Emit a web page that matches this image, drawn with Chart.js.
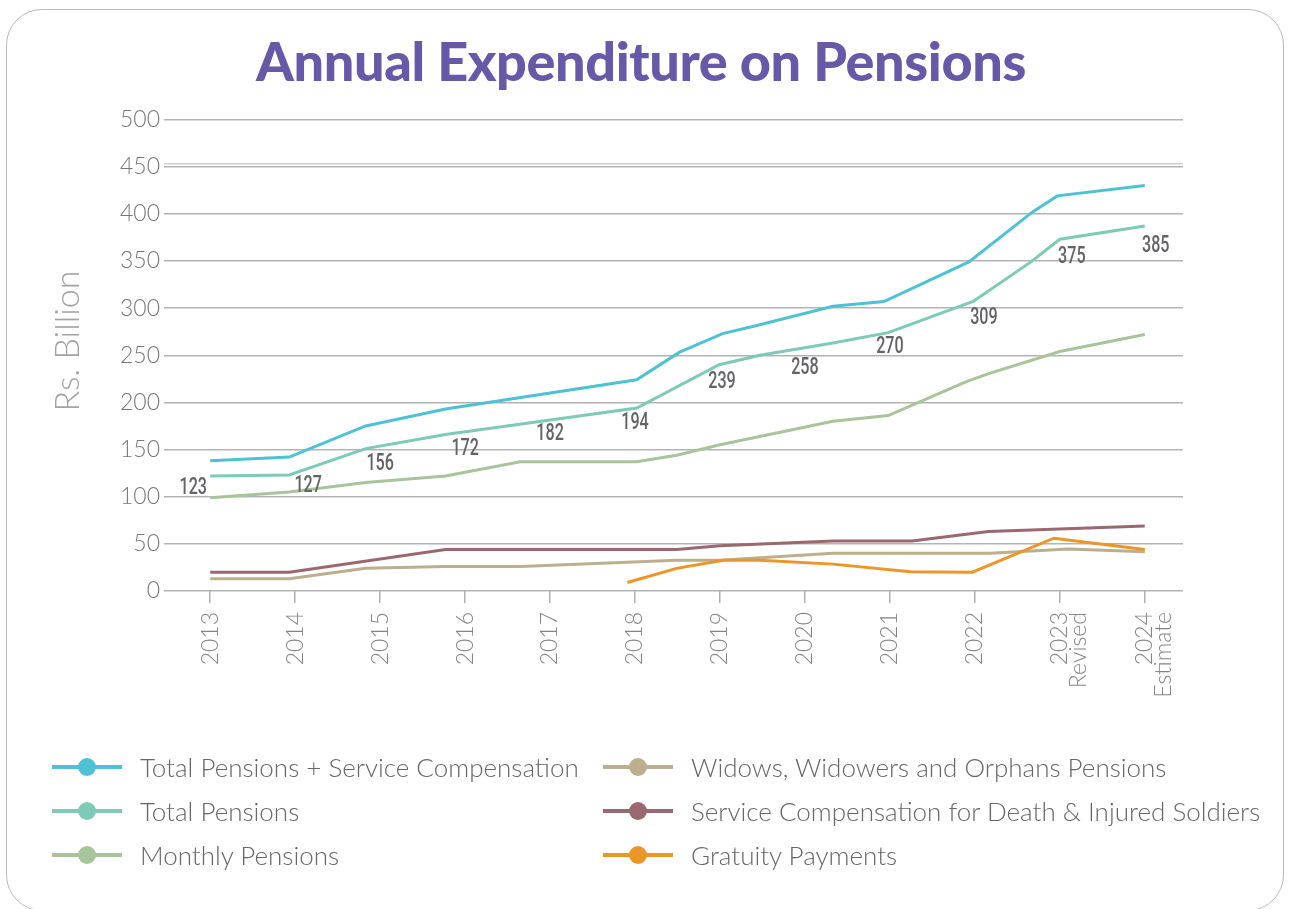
<!DOCTYPE html>
<html>
<head>
<meta charset="utf-8">
<script src="https://cdn.jsdelivr.net/npm/chart.js@4.4.1/dist/chart.umd.min.js"></script>
<style>
  html, body { margin: 0; padding: 0; background: #fff; width: 1290px; height: 909px; overflow: hidden; }
  #frame { position: absolute; left: 6px; top: 9px; width: 1278px; height: 902px; border: 1.5px solid #b9b9b9; border-radius: 36px; box-sizing: border-box; }
  #title { position: absolute; left: -4px; top: 34px; width: 1290px; text-align: center; font-family: Lato, sans-serif; font-weight: 900; font-size: 54px; line-height: 54px; letter-spacing: -0.4px; color: #6759a8; }
  #chartBox { position: absolute; left: 0; top: 0; width: 1290px; height: 909px; }
  #legend { position: absolute; left: 52px; top: 745px; display: grid; grid-template-rows: 43px 45px 44px; grid-auto-flow: column; grid-template-columns: 551px auto; }
  .item { display: flex; align-items: center; font-family: Lato, sans-serif; font-weight: 300; font-size: 26px; color: #666; white-space: nowrap; }
  .mk { position: relative; width: 70px; height: 20px; margin-right: 18px; flex: none; }
  .mk .ln { position: absolute; left: 0; right: 0; top: 8px; height: 4px; }
  .mk .dot { position: absolute; left: 26px; top: 1px; width: 18px; height: 18px; border-radius: 50%; }
</style>
</head>
<body>
<div id="frame"></div>
<div id="title">Annual Expenditure on Pensions</div>
<div id="chartBox"><canvas id="c" width="1290" height="909"></canvas></div>
<div id="legend"></div>
<script>
// ---------- DATA ----------
const tickYears = [2013, 2014, 2015, 2016, 2017, 2018, 2019, 2020, 2021, 2022, 2023, 2024];
const xTickLabels = ['2013', '2014', '2015', '2016', '2017', '2018', '2019', '2020', '2021', '2022', ['2023', 'Revised'], ['2024', 'Estimate']];

const seriesNames = [
  'Total Pensions + Service Compensation',
  'Total Pensions',
  'Monthly Pensions',
  'Widows, Widowers and Orphans Pensions',
  'Service Compensation for Death & Injured Soldiers',
  'Gratuity Payments'
];

const totalServiceX = [2013.0, 2013.93, 2014.83, 2015.77, 2018.02, 2018.52, 2019.03, 2019.41, 2020.33, 2020.93, 2021.93, 2022.68, 2022.97, 2024.0];
const totalServiceY = [138, 142, 175, 193, 224, 253, 273, 281, 302, 307, 349, 402, 419, 430];

const totalPensionsX = [2013.0, 2013.93, 2014.83, 2015.77, 2018.02, 2018.99, 2019.47, 2020.33, 2020.98, 2021.98, 2022.66, 2023.0, 2024.0];
const totalPensionsY = [122, 123, 151, 166, 194, 240, 250, 263, 274, 307, 349, 373, 387];

const monthlyX = [2013.0, 2013.93, 2014.83, 2015.77, 2016.65, 2018.02, 2018.49, 2019.0, 2020.33, 2020.98, 2021.9, 2022.18, 2023.0, 2024.0];
const monthlyY = [99, 105, 115, 122, 137, 137, 144, 155, 180, 186, 222, 231, 254, 272];

const widowsX = [2013.0, 2013.93, 2014.83, 2015.77, 2016.65, 2018.49, 2019.0, 2020.33, 2022.18, 2023.1, 2024.0];
const widowsY = [13, 13, 24, 26, 26, 32.5, 32.5, 40, 40, 44.5, 41.5];

const serviceCompX = [2013.0, 2013.93, 2015.77, 2018.49, 2019.0, 2020.33, 2021.26, 2022.16, 2024.0];
const serviceCompY = [20, 20, 44, 44, 48, 53, 53, 63, 69];

const gratuityX = [2017.91, 2018.49, 2019.04, 2019.47, 2020.33, 2021.24, 2021.97, 2022.93, 2024.0];
const gratuityY = [9, 24, 32.5, 32.5, 28.5, 20.5, 20, 56, 44];

const totalLabelYears = [2013, 2014, 2015, 2016, 2017, 2018, 2019, 2020, 2021, 2022, 2023, 2024];
const totalLabelValues = [123, 127, 156, 172, 182, 194, 239, 258, 270, 309, 375, 385];

const yTicks = [0, 50, 100, 150, 200, 250, 300, 350, 400, 450, 500];
const extraGridValues = [453];

// ---------- STYLE ----------
const colors = ['#4cc2d4', '#7ccab7', '#a8c49a', '#bcae8f', '#9c6870', '#ec9627'];
const zip = (xs, ys) => xs.map((x, i) => ({ x: x, y: ys[i] }));
const seriesData = [
  zip(totalServiceX, totalServiceY),
  zip(totalPensionsX, totalPensionsY),
  zip(monthlyX, monthlyY),
  zip(widowsX, widowsY),
  zip(serviceCompX, serviceCompY),
  zip(gratuityX, gratuityY)
];
const drawOrder = [3, 4, 5, 2, 1, 0];

const datasets = seriesNames.map((name, i) => ({
  label: name,
  data: seriesData[i],
  borderColor: colors[i],
  backgroundColor: colors[i],
  borderWidth: 3,
  pointRadius: 0,
  tension: 0,
  fill: false,
  order: drawOrder[i]
}));

// label placement nudges (px) relative to the tick / value position
const labelNudge = {
  0: [-17, -2], 1: [13, 0], 2: [0, 5], 3: [0, 5], 4: [0, 0], 5: [0, 0],
  6: [2, 2], 7: [0, 6], 8: [0, -4], 9: [9, 4], 10: [12, 5], 11: [11, 3]
};
const valueLabels = {
  id: 'valueLabels',
  afterDatasetsDraw(chart) {
    const { ctx, scales } = chart;
    ctx.save();
    ctx.fillStyle = '#636368';
    ctx.font = '500 23px Roboto, "DejaVu Sans", sans-serif';
    ctx.textAlign = 'center';
    ctx.textBaseline = 'middle';
    totalLabelYears.forEach((yr, i) => {
      const n = labelNudge[i] || [0, 0];
      const px = scales.x.getPixelForValue(yr) + n[0];
      const py = scales.y.getPixelForValue(totalLabelValues[i]) + 15 + n[1];
      ctx.save();
      ctx.translate(px, py);
      ctx.scale(0.7, 1);
      ctx.fillText(String(totalLabelValues[i]), 0, 0);
      ctx.restore();
    });
    ctx.restore();
  }
};

const yTitle = {
  id: 'yTitle',
  afterDraw(chart) {
    const ctx = chart.ctx;
    ctx.save();
    ctx.translate(68, 341);
    ctx.rotate(-Math.PI / 2);
    ctx.fillStyle = '#a3a3a3';
    ctx.font = '300 34px Lato, sans-serif';
    ctx.textAlign = 'center';
    ctx.textBaseline = 'middle';
    ctx.fillText('Rs. Billion', 0, 0);
    ctx.restore();
  }
};

const tickFont = { family: 'Lato, sans-serif', size: 23, weight: 300 };

new Chart(document.getElementById('c'), {
  type: 'line',
  data: { datasets: datasets },
  options: {
    responsive: false,
    animation: false,
    events: [],
    layout: { padding: { left: 40, right: 107, top: 119.5, bottom: 208 } },
    plugins: { legend: { display: false }, tooltip: { enabled: false }, title: { display: false } },
    scales: {
      x: {
        type: 'linear',
        min: 2012.55,
        max: 2024.45,
        afterBuildTicks: (s) => { s.ticks = tickYears.map(v => ({ value: v })); },
        afterFit: (s) => { s.height = 110; },
        ticks: {
          autoSkip: false,
          minRotation: 90,
          maxRotation: 90,
          padding: 9,
          color: '#858585',
          font: { family: 'Lato, sans-serif', size: 23, weight: 300, lineHeight: 0.8 },
          callback: (v, i) => xTickLabels[i]
        },
        grid: { drawOnChartArea: false, drawTicks: true, tickLength: 12, color: '#b0b0b0', lineWidth: 1.5 },
        border: { display: false }
      },
      y: {
        min: 0,
        max: 500,
        afterBuildTicks: (s) => {
          s.ticks = yTicks.concat(extraGridValues).sort((a, b) => a - b).map(v => ({ value: v }));
        },
        afterFit: (s) => { s.width = 132; },
        ticks: {
          padding: 4, color: '#777', font: tickFont,
          callback: (v) => (yTicks.includes(v) ? String(v) : '')
        },
        grid: {
          color: (c) => (c.tick && extraGridValues.includes(c.tick.value) ? '#cfcfcf' : '#b3b3b3'),
          lineWidth: 1.5, tickLength: 8, drawTicks: true
        },
        border: { display: false }
      }
    }
  },
  plugins: [valueLabels, yTitle]
});

// ---------- HTML legend ----------
const legendEl = document.getElementById('legend');
datasets.forEach(ds => {
  const it = document.createElement('div');
  it.className = 'item';
  const mk = document.createElement('span');
  mk.className = 'mk';
  const ln = document.createElement('span');
  ln.className = 'ln';
  ln.style.background = ds.borderColor;
  const dot = document.createElement('span');
  dot.className = 'dot';
  dot.style.background = ds.borderColor;
  mk.appendChild(ln); mk.appendChild(dot);
  const tx = document.createElement('span');
  tx.textContent = ds.label;
  it.appendChild(mk); it.appendChild(tx);
  legendEl.appendChild(it);
});
</script>
</body>
</html>
